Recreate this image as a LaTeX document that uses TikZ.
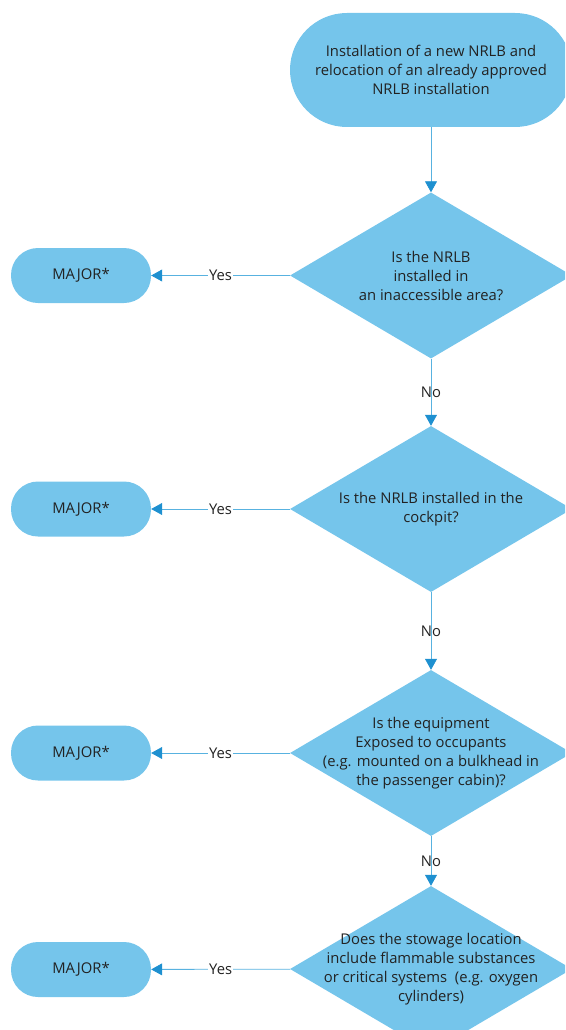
\documentclass[tikz,border=0pt]{standalone}
\usepackage{fontspec}
\setmainfont{Open Sans}
\usetikzlibrary{shapes.geometric,arrows.meta}
\definecolor{boxfill}{RGB}{117,197,235}
\definecolor{linec}{RGB}{88,178,224}
\definecolor{headc}{RGB}{30,144,208}
\definecolor{txt}{RGB}{34,34,34}
\begin{document}
\begin{tikzpicture}[x=1pt,y=-1pt,
  every node/.style={font=\fontsize{14.8}{19}\selectfont, text=txt},
  term/.style={draw=none, fill=boxfill, rectangle, rounded corners=27pt, minimum width=140pt, minimum height=55pt, inner sep=0pt},
  startbox/.style={draw=none, fill=boxfill, rectangle, rounded corners=57pt, minimum width=282pt, minimum height=114pt, inner sep=0pt},
  dia/.style={draw=none, fill=boxfill, diamond, minimum width=282pt, minimum height=166pt, inner sep=0pt},
  qtext/.style={align=center, inner sep=0pt},
  arr/.style={draw=linec, line width=0.8pt, -{Triangle[length=11pt,width=12pt,fill=headc,color=headc]}},
  lab/.style={inner sep=1pt}
]
\useasboundingbox (0,0) rectangle (565,1030);
\begin{scope}
\clip (0,0) rectangle (565,1030);
\node[startbox] (start) at (431,70) {};
\node[qtext] at (start) {Installation of a new NRLB and\\relocation of an already approved\\NRLB installation};

\node[dia] (d1) at (431,275.5) {};
\node[qtext] at (d1) {Is the NRLB\\installed in\\an inaccessible area?};
\node[dia] (d2) at (431,509) {};
\node[qtext] at (d2) {Is the NRLB installed in the\\cockpit?};
\node[dia] (d3) at (431,753) {};
\node[qtext] at (d3) {Is the equipment\\Exposed to occupants\\(e.g. mounted on a bulkhead in\\the passenger cabin)?};
\node[dia] (d4) at (431,969) {};
\node[qtext] at (d4) {Does the stowage location\\include flammable substances\\or critical systems\ \ (e.g. oxygen\\cylinders)};

\node[term] (m1) at (81,275.5) {MAJOR*};
\node[term] (m2) at (81,509) {MAJOR*};
\node[term] (m3) at (81,753) {MAJOR*};
\node[term] (m4) at (81,969.5) {MAJOR*};

\draw[arr] (start) -- (d1);
\draw[arr] (d1) -- node[lab]{No} (d2);
\draw[arr] (d2) -- node[lab]{No} (d3);
\draw[arr] (d3) -- node[lab]{No} (d4);

\draw[arr] (d1) -- node[lab,fill=white]{Yes} (m1);
\draw[arr] (d2) -- node[lab,fill=white]{Yes} (m2);
\draw[arr] (d3) -- node[lab,fill=white]{Yes} (m3);
\draw[arr] (d4) -- node[lab,fill=white]{Yes} (m4);
\end{scope}
\end{tikzpicture}
\end{document}
